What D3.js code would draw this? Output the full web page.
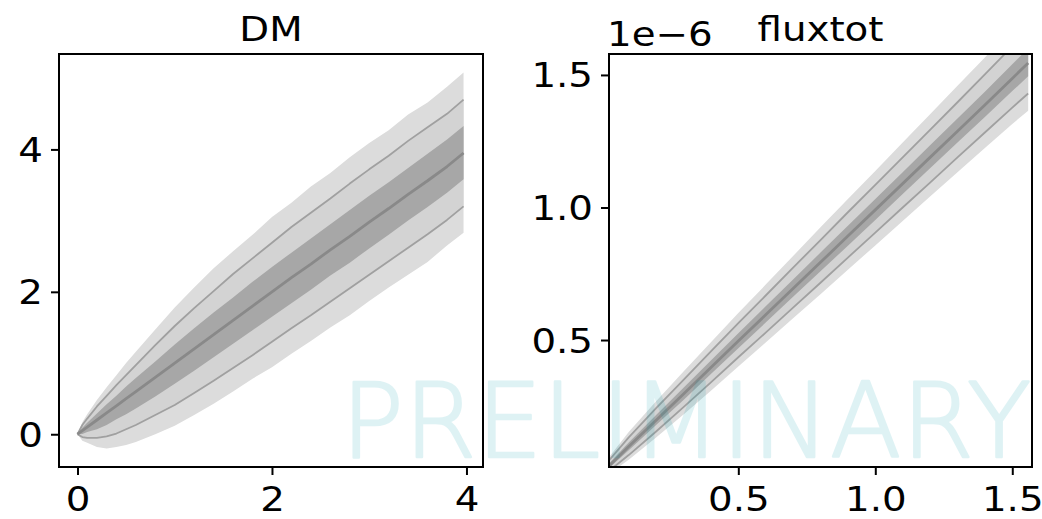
<!DOCTYPE html>
<html>
<head>
<meta charset="utf-8">
<script src="https://cdn.jsdelivr.net/npm/d3@7"></script>
<style>
  body { margin: 0; background: #fff; }
  svg { display: block; }
  text { font-family: "DejaVu Sans", sans-serif; fill: #000; }
</style>
</head>
<body>
<svg id="chart" width="1042" height="519"></svg>
<script>

// DM panel: x grid, median and quantile bands
var dmX    = [0, 0.05, 0.1, 0.2, 0.3, 0.4, 0.5, 0.6, 0.8, 1.0, 1.2, 1.4, 1.6, 1.8, 2.0, 2.2, 2.4, 2.6, 2.8, 3.0, 3.2, 3.4, 3.6, 3.8, 3.97];
var dmMed  = [0, 0.05, 0.1, 0.2, 0.3, 0.4, 0.5, 0.6, 0.8, 1.0, 1.2, 1.4, 1.6, 1.8, 2.0, 2.2, 2.39, 2.59, 2.78, 2.98, 3.17, 3.37, 3.56, 3.76, 3.95];
var dmHi2  = [0, 0.17, 0.28, 0.48, 0.66, 0.83, 1.0, 1.16, 1.47, 1.78, 2.06, 2.33, 2.57, 2.80, 3.05, 3.25, 3.48, 3.67, 3.89, 4.09, 4.27, 4.49, 4.66, 4.88, 5.08];
var dmHi1  = [0, 0.13, 0.22, 0.39, 0.54, 0.69, 0.83, 0.97, 1.25, 1.52, 1.77, 2.01, 2.25, 2.47, 2.69, 2.91, 3.11, 3.31, 3.52, 3.72, 3.91, 4.12, 4.31, 4.50, 4.70];
var dmHi0  = [0, 0.09, 0.16, 0.29, 0.42, 0.54, 0.67, 0.79, 1.02, 1.26, 1.49, 1.71, 1.92, 2.14, 2.35, 2.55, 2.75, 2.95, 3.15, 3.35, 3.54, 3.74, 3.94, 4.14, 4.33];
var dmLo0  = [0, 0.003, 0.03, 0.07, 0.13, 0.21, 0.28, 0.36, 0.53, 0.71, 0.89, 1.08, 1.27, 1.46, 1.65, 1.84, 2.03, 2.23, 2.41, 2.61, 2.80, 3.0, 3.19, 3.39, 3.58];
var dmLo1  = [0, -0.04, -0.05, -0.05, -0.03, 0.01, 0.07, 0.13, 0.27, 0.41, 0.58, 0.75, 0.93, 1.11, 1.30, 1.49, 1.67, 1.86, 2.05, 2.24, 2.43, 2.62, 2.81, 3.01, 3.20];
var dmLo2  = [0, -0.09, -0.12, -0.18, -0.2, -0.18, -0.15, -0.11, 0.0, 0.12, 0.27, 0.43, 0.60, 0.78, 0.94, 1.13, 1.31, 1.50, 1.67, 1.87, 2.06, 2.24, 2.42, 2.65, 2.83];

// fluxtot panel (units of 1e-6)
var fluxX   = [0.028, 0.1, 0.2, 0.3, 0.4, 0.5, 0.6, 0.7, 0.8, 0.9, 1.0, 1.1, 1.2, 1.3, 1.4, 1.5, 1.558];
var fluxMed = [0.025, 0.098, 0.197, 0.296, 0.396, 0.496, 0.595, 0.694, 0.793, 0.892, 0.991, 1.09, 1.189, 1.288, 1.387, 1.487, 1.545];
var fluxHi2 = [0.058, 0.153, 0.269, 0.381, 0.492, 0.602, 0.709, 0.817, 0.925, 1.032, 1.138, 1.245, 1.352, 1.459, 1.566, 1.676, 1.743];
var fluxHi1 = [0.046, 0.133, 0.243, 0.350, 0.457, 0.564, 0.668, 0.773, 0.877, 0.982, 1.085, 1.189, 1.293, 1.397, 1.502, 1.608, 1.672];
var fluxHi0 = [0.034, 0.113, 0.217, 0.320, 0.423, 0.526, 0.627, 0.728, 0.830, 0.931, 1.032, 1.133, 1.235, 1.336, 1.437, 1.540, 1.600];
var fluxLo0 = [0.017, 0.084, 0.179, 0.274, 0.372, 0.469, 0.566, 0.663, 0.759, 0.856, 0.953, 1.051, 1.148, 1.245, 1.341, 1.439, 1.495];
var fluxLo1 = [0.006, 0.066, 0.155, 0.247, 0.340, 0.435, 0.528, 0.622, 0.716, 0.811, 0.905, 1.0, 1.094, 1.189, 1.283, 1.377, 1.430];
var fluxLo2 = [-0.005, 0.048, 0.132, 0.219, 0.309, 0.400, 0.491, 0.582, 0.673, 0.765, 0.857, 0.949, 1.041, 1.133, 1.224, 1.315, 1.365];

var dmTicks = [0, 2, 4];
var fluxTicks = [0.5, 1.0, 1.5];

var svg = d3.select("#chart");
var stretch = 1.14;   // the picture's text is a bit wider than tall
var fontSize = 34;

function panel(opts) {

	var x = d3.scaleLinear().domain(opts.xDomain).range([opts.left, opts.right]);
	var y = d3.scaleLinear().domain(opts.yDomain).range([opts.bottom, opts.top]);

	var g = svg.append("g");

	g.append("clipPath").attr("id", opts.id + "clip")
		.append("rect")
		.attr("x", opts.left).attr("y", opts.top)
		.attr("width", opts.right - opts.left).attr("height", opts.bottom - opts.top);

	var plot = g.append("g").attr("clip-path", "url(#" + opts.id + "clip)");

	var idx = d3.range(opts.xs.length);

	function band(lo, hi, fill) {
		var area = d3.area()
			.x(function(i) { return x(opts.xs[i]); })
			.y0(function(i) { return y(lo[i]); })
			.y1(function(i) { return y(hi[i]); });
		plot.append("path").attr("d", area(idx)).attr("fill", fill);
	}

	function line(vals, color, width) {
		var l = d3.line()
			.x(function(i) { return x(opts.xs[i]); })
			.y(function(i) { return y(vals[i]); });
		plot.append("path").attr("d", l(idx))
			.attr("fill", "none").attr("stroke", color)
			.attr("stroke-width", width).attr("stroke-linejoin", "round");
	}

	band(opts.lo2, opts.hi2, "#dcdcdc");
	band(opts.lo1, opts.hi1, "#d3d3d3");
	band(opts.lo0, opts.hi0, "#a7a7a7");
	line(opts.lo1, "#a0a0a0", 1.8);
	line(opts.hi1, "#a0a0a0", 1.8);
	line(opts.med, "#898989", 2.8);

	// frame
	g.append("rect")
		.attr("x", opts.left).attr("y", opts.top)
		.attr("width", opts.right - opts.left).attr("height", opts.bottom - opts.top)
		.attr("fill", "none").attr("stroke", "#000").attr("stroke-width", 2);

	var xAxis = g.append("g")
		.attr("transform", "translate(0," + opts.bottom + ")")
		.call(d3.axisBottom(x).tickValues(opts.xTicks).tickSize(8).tickFormat(opts.fmt));

	var yAxis = g.append("g")
		.attr("transform", "translate(" + opts.left + ",0)")
		.call(d3.axisLeft(y).tickValues(opts.yTicks).tickSize(8).tickFormat(opts.fmt));

	[xAxis, yAxis].forEach(function(ax) {
		ax.select(".domain").remove();
		ax.selectAll(".tick line").attr("stroke", "#000").attr("stroke-width", 2);
	});

	xAxis.selectAll(".tick text")
		.attr("y", null).attr("dy", null)
		.attr("transform", "translate(0,44) scale(" + stretch + ",1)")
		.style("font-size", fontSize + "px");

	yAxis.selectAll(".tick text")
		.attr("x", null).attr("dy", null)
		.attr("transform", "translate(-16,12) scale(" + stretch + ",1)")
		.style("font-size", fontSize + "px");

	g.append("text")
		.attr("transform", "translate(" + ((opts.left + opts.right) / 2) + ",41) scale(" + stretch + ",1)")
		.attr("text-anchor", "middle")
		.style("font-size", fontSize + "px")
		.text(opts.title);

	if (opts.offset) {
		g.append("text")
			.attr("transform", "translate(" + (opts.left - 2) + ",46) scale(" + stretch + ",1)")
			.style("font-size", fontSize + "px")
			.text(opts.offset);
	}
}

panel({
	id: "dm", title: "DM",
	left: 59, right: 483, top: 54, bottom: 467,
	xDomain: [-0.19, 4.17], yDomain: [-0.46, 5.34],
	xTicks: dmTicks, yTicks: dmTicks, fmt: d3.format("d"),
	xs: dmX, med: dmMed,
	lo0: dmLo0, hi0: dmHi0, lo1: dmLo1, hi1: dmHi1, lo2: dmLo2, hi2: dmHi2
});

panel({
	id: "flux", title: "fluxtot", offset: "1e\u22126",
	left: 609, right: 1032, top: 54, bottom: 467,
	xDomain: [0.028, 1.572], yDomain: [0.021, 1.579],
	xTicks: fluxTicks, yTicks: fluxTicks, fmt: d3.format(".1f"),
	xs: fluxX, med: fluxMed,
	lo0: fluxLo0, hi0: fluxHi0, lo1: fluxLo1, hi1: fluxHi1, lo2: fluxLo2, hi2: fluxHi2
});

// watermark over both panels
svg.append("g")
	.attr("opacity", 0.125)
	.append("text")
	.attr("x", 341).attr("y", 457)
	.attr("textLength", 690).attr("lengthAdjust", "spacingAndGlyphs")
	.style("font-size", "104px")
	.style("font-weight", 200)
	.style("fill", "rgb(0,159,175)")
	.style("stroke", "rgb(0,159,175)")
	.style("stroke-width", 2.5)
	.style("stroke-linejoin", "round")
	.text("PRELIMINARY");

</script>
</body>
</html>
